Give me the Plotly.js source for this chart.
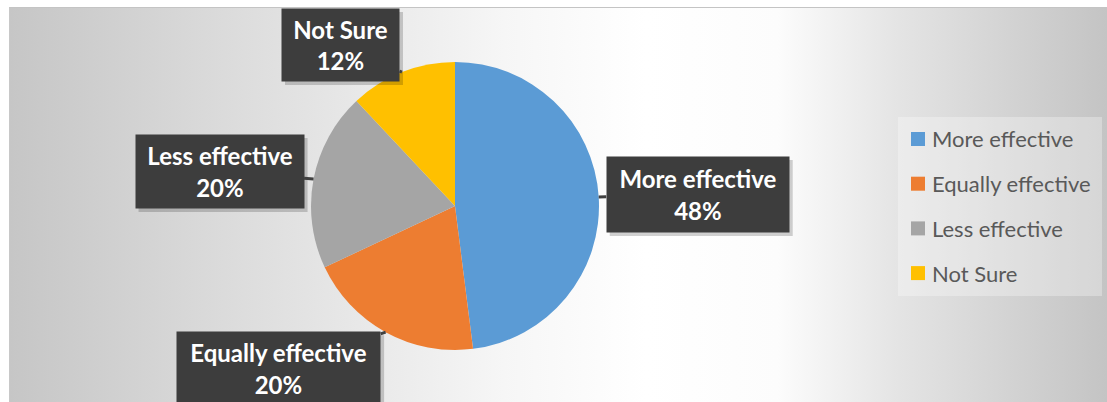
<!DOCTYPE html>
<html><head><meta charset="utf-8">
<script src="https://cdn.plot.ly/plotly-3.0.1.min.js"></script>
<style>
html,body{margin:0;padding:0;background:#fff;width:1107px;height:402px;overflow:hidden}
#bg{position:absolute;left:9px;top:7px;width:1098px;height:395px;border-top:1px solid #c4c4c4;border-left:1px solid #c8c8c8;box-sizing:border-box;
background:linear-gradient(to right,#c6c6c6 0%,#e2e2e2 26%,#f6f6f6 45%,#ffffff 58%,#fcfcfc 70%,#e4e4e4 81%,#c4c4c4 100%)}
#chart{position:absolute;left:0;top:0;width:1107px;height:402px}
</style></head>
<body><div id="bg"></div><div id="chart"></div>
<script>
// ---- data ----
const categories = ["More effective", "Equally effective", "Less effective", "Not Sure"];
const values = [48, 20, 20, 12];
const colors = ["#5B9BD5", "#ED7D31", "#A5A5A5", "#FFC000"];

// ---- layout constants (not data) ----
const W = 1107, H = 402;
const pieCx = 455, pieCy = 206, pieR = 144;          // pixel geometry of the pie
const labelOffsets = [[99, -2.5], [-107, 36.5], [-94, -7.5], [-61.5, -27]]; // box centre minus tip, px
const labelSizes = [[180, 73], [201, 71], [166, 71], [115, 70]];
const legendBox = {x0: 898, x1: 1102, y0: 117, y1: 296};
const legendRow0 = 139, legendRowGap = 44.7, legendSwatchX = 911, legendSwatch = 14, legendTextX = 930;

const px = x => x / W, py = y => 1 - y / H;
const total = values.reduce((a, b) => a + b, 0);

const trace = {
  type: 'pie', labels: categories, values: values, sort: false, direction: 'clockwise',
  marker: {colors: colors, line: {width: 0}}, textinfo: 'none', hoverinfo: 'none', showlegend: false,
  domain: {x: [px(pieCx - pieR), px(pieCx + pieR)], y: [py(pieCy + pieR), py(pieCy - pieR)]}
};

const annotations = [], shapes = [];
let cum = 0;
values.forEach((v, i) => {
  const mid = (cum + v / 2) / total; cum += v;
  const th = 2 * Math.PI * mid;
  const tx = pieCx + pieR * Math.sin(th), ty = pieCy - pieR * Math.cos(th);
  const pct = Math.round(v / total * 100);
  const bx = tx + labelOffsets[i][0], by = ty + labelOffsets[i][1];
  const hw = labelSizes[i][0] / 2 + 1, hh = labelSizes[i][1] / 2 + 1;
  // soft shadow behind the label box
  shapes.push({type: 'rect', xref: 'paper', yref: 'paper', layer: 'above',
    x0: px(bx - hw + 3), x1: px(bx + hw + 4), y0: py(by + hh + 4), y1: py(by - hh + 3),
    fillcolor: 'rgba(0,0,0,0.18)', line: {width: 0}});
  annotations.push({
    xref: 'paper', yref: 'paper', x: px(tx), y: py(ty),
    ax: labelOffsets[i][0], ay: labelOffsets[i][1],
    text: '<b>' + categories[i] + '</b><br><b>' + pct + '%</b>',
    showarrow: true, arrowhead: 0, arrowwidth: 3, arrowcolor: '#404040', standoff: 0,
    bgcolor: '#3d3d3d', borderpad: 1, width: labelSizes[i][0], height: labelSizes[i][1],
    font: {family: 'Lato, "Open Sans", sans-serif', size: 24, color: '#ffffff'}, align: 'center', valign: 'middle'
  });
  // legend row
  const ry = legendRow0 + i * legendRowGap;
  shapes.push({type: 'rect', xref: 'paper', yref: 'paper', layer: 'above',
    x0: px(legendSwatchX), x1: px(legendSwatchX + legendSwatch),
    y0: py(ry - legendSwatch / 2), y1: py(ry + legendSwatch / 2),
    fillcolor: colors[i], line: {width: 0}});
  annotations.push({xref: 'paper', yref: 'paper', x: px(legendTextX), y: py(ry), xanchor: 'left', yanchor: 'middle',
    text: categories[i], showarrow: false,
    font: {family: 'Lato, "Open Sans", sans-serif', size: 22, color: '#595959'}});
});
shapes.unshift({type: 'rect', xref: 'paper', yref: 'paper', layer: 'below',
  x0: px(legendBox.x0), x1: px(legendBox.x1), y0: py(legendBox.y1), y1: py(legendBox.y0),
  fillcolor: 'rgba(255,255,255,0.3)', line: {width: 0}});

Plotly.newPlot('chart', [trace], {
  width: W, height: H, margin: {l: 0, r: 0, t: 0, b: 0},
  paper_bgcolor: 'rgba(0,0,0,0)', plot_bgcolor: 'rgba(0,0,0,0)',
  showlegend: false, annotations: annotations, shapes: shapes
}, {staticPlot: true, displayModeBar: false});
</script>
</body></html>
